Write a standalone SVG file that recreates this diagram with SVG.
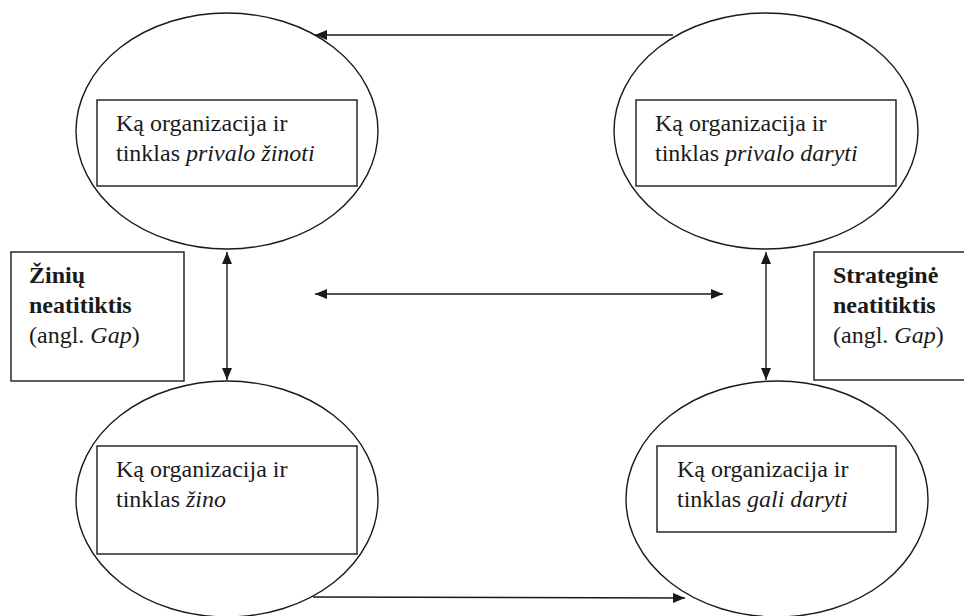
<svg xmlns="http://www.w3.org/2000/svg" width="964" height="616" viewBox="0 0 964 616">
<defs>
<marker id="ah" viewBox="0 0 12 10" refX="12" refY="5" markerWidth="12" markerHeight="10" markerUnits="userSpaceOnUse" orient="auto-start-reverse">
<path d="M0,0 L12,5 L0,10 Z" fill="#1a1a1a"/>
</marker>
</defs>
<style>
.sh{fill:#fff;stroke:#1a1a1a;stroke-width:1.4}
.t{font-family:"Liberation Serif","Times New Roman",serif;font-size:24px;fill:#1a1a1a}
.b{font-weight:bold}
.i{font-style:italic}
.c{stroke:#1a1a1a;stroke-width:1.4;fill:none}
</style>
<rect width="964" height="616" fill="#fff"/>
<g id="connectors">
<line class="c" x1="673" y1="35" x2="315" y2="35" marker-end="url(#ah)"/>
<line class="c" x1="315" y1="294" x2="723" y2="294" marker-start="url(#ah)" marker-end="url(#ah)"/>
<line class="c" x1="227" y1="252" x2="227" y2="380" marker-start="url(#ah)" marker-end="url(#ah)"/>
<line class="c" x1="766" y1="252" x2="766" y2="380" marker-start="url(#ah)" marker-end="url(#ah)"/>
<line class="c" x1="313" y1="597" x2="685" y2="598" marker-end="url(#ah)"/>
</g>
<g id="node-tl">
<ellipse class="sh" cx="227" cy="131" rx="151" ry="118"/>
<rect class="sh" x="97" y="100" width="260" height="86"/>
<text class="t" x="116" y="131">Ką organizacija ir</text>
<text class="t" x="116" y="161">tinklas <tspan class="i">privalo žinoti</tspan></text>
</g>
<g id="node-tr">
<ellipse class="sh" cx="766" cy="131" rx="152" ry="118"/>
<rect class="sh" x="636" y="100" width="260" height="86"/>
<text class="t" x="655" y="131">Ką organizacija ir</text>
<text class="t" x="655" y="161">tinklas <tspan class="i">privalo daryti</tspan></text>
</g>
<g id="node-bl">
<ellipse class="sh" cx="227" cy="499" rx="151" ry="118"/>
<rect class="sh" x="97" y="446" width="260" height="108"/>
<text class="t" x="116" y="477">Ką organizacija ir</text>
<text class="t" x="116" y="507">tinklas <tspan class="i">žino</tspan></text>
</g>
<g id="node-br">
<ellipse class="sh" cx="777" cy="499" rx="151" ry="118"/>
<rect class="sh" x="657" y="446" width="239" height="86"/>
<text class="t" x="677" y="477">Ką organizacija ir</text>
<text class="t" x="677" y="507">tinklas <tspan class="i">gali daryti</tspan></text>
</g>
<g id="label-left">
<rect class="sh" x="11" y="252" width="173" height="129"/>
<text class="t b" x="29" y="283">Žinių</text>
<text class="t b" x="29" y="313">neatitiktis</text>
<text class="t" x="29" y="343">(angl. <tspan class="i">Gap</tspan>)</text>
</g>
<g id="label-right">
<rect class="sh" x="814" y="252" width="160" height="128"/>
<text class="t b" x="833" y="283">Strateginė</text>
<text class="t b" x="833" y="313">neatitiktis</text>
<text class="t" x="833" y="343">(angl. <tspan class="i">Gap</tspan>)</text>
</g>
</svg>
